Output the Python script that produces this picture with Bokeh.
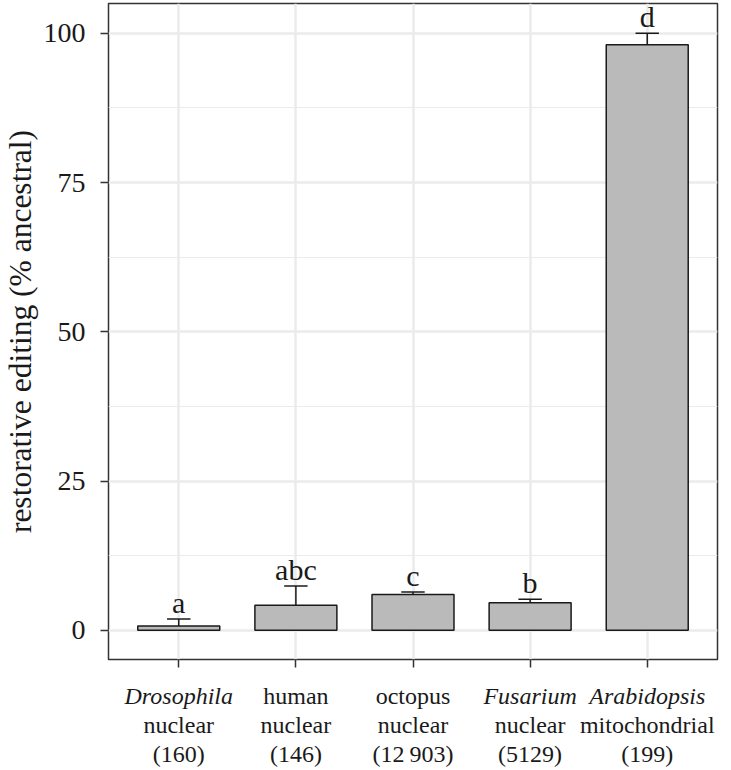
import math
from bokeh.plotting import figure
from bokeh.layouts import column, row
from bokeh.models import Range1d, FixedTicker, ColumnDataSource
from bokeh.core.properties import value
from bokeh.embed import file_html
from bokeh.resources import INLINE

# ---- data ----
species = ["Drosophila", "human", "octopus", "Fusarium", "Arabidopsis"]
species_italic = [True, False, False, True, True]
compartment = ["nuclear", "nuclear", "nuclear", "nuclear", "mitochondrial"]
site_counts = ["(160)", "(146)", "(12\u2009903)", "(5129)", "(199)"]
mean_pct = [0.7, 4.2, 6.0, 4.6, 98.1]
upper_pct = [1.9, 7.4, 6.4, 5.2, 100.0]
group_letters = ["a", "abc", "c", "b", "d"]
y_ticks = [0, 25, 50, 75, 100]
y_title = "restorative editing (% ancestral)"

FONT = "Liberation Serif"
TXT = "#1a1a1a"
GRID = "#EBEBEB"
BORDER = "#333333"

TITLE_W = 40
LEFT, RIGHT, TOP = 106 - TITLE_W, 6, 3
W = LEFT + 611 + RIGHT
MAIN_H, MAIN_BOTTOM = 680, 21
STRIP_H = 88
FRAME_H = MAIN_H - TOP - MAIN_BOTTOM
xpos = list(range(1, len(species) + 1))
y_start, y_end = -4.9, 105.0
x_range = Range1d(0.4, len(species) + 0.6)

p = figure(width=W, height=MAIN_H,
           min_border_left=LEFT, min_border_right=RIGHT, min_border_top=TOP,
           min_border_bottom=MAIN_BOTTOM,
           x_range=x_range, y_range=Range1d(y_start, y_end),
           output_backend="svg", toolbar_location=None)
p.background_fill_color = "white"
p.border_fill_color = "white"
p.outline_line_color = BORDER
p.outline_line_width = 1.5

for ax in (p.xaxis[0], p.yaxis[0]):
    ax.axis_line_color = None
    ax.major_tick_line_color = BORDER
    ax.major_tick_line_width = 1.5
    ax.major_tick_out = 8
    ax.major_tick_in = 0
    ax.minor_tick_line_color = None

p.xaxis.ticker = FixedTicker(ticks=xpos)
p.xaxis.major_label_overrides = {x: "" for x in xpos}
p.xaxis.major_label_text_font_size = "0px"
p.xaxis.major_label_standoff = 0
p.xaxis.axis_label_standoff = 0

minor = [(a + b) / 2 for a, b in zip(y_ticks, y_ticks[1:])]
p.yaxis.ticker = FixedTicker(ticks=y_ticks, minor_ticks=minor)
p.yaxis.major_label_text_font = FONT
p.yaxis.major_label_text_font_size = "28px"
p.yaxis.major_label_text_color = TXT
p.yaxis.major_label_standoff = 15

p.xgrid.ticker = FixedTicker(ticks=xpos)
p.xgrid.grid_line_color = GRID
p.xgrid.grid_line_width = 2.5
p.ygrid.grid_line_color = GRID
p.ygrid.grid_line_width = 2.5
p.ygrid.minor_grid_line_color = GRID
p.ygrid.minor_grid_line_width = 1.2

src = ColumnDataSource(dict(
    x=xpos, mean=mean_pct, upper=upper_pct, letter=group_letters,
    cap0=[x - 0.1 for x in xpos], cap1=[x + 0.1 for x in xpos],
))

p.vbar(x="x", top="mean", bottom=0, width=0.7, source=src,
       fill_color="#BABABA", line_color="#1a1a1a", line_width=1.5)
p.segment(x0="x", y0="mean", x1="x", y1="upper", source=src,
          line_color="#1a1a1a", line_width=1.5)
p.segment(x0="cap0", y0="upper", x1="cap1", y1="upper", source=src,
          line_color="#1a1a1a", line_width=1.5)
p.text(x="x", y="upper", text="letter", source=src,
       text_align="center", text_baseline="bottom",
       text_font=value(FONT), text_font_size="30px", text_color=TXT)

# ---- strip below the panel carrying the three-line category labels ----
LINE1_FROM_TOP, LINE_STEP = 15, 29
strip = figure(width=W, height=STRIP_H,
               min_border_left=LEFT, min_border_right=RIGHT, min_border_top=0, min_border_bottom=0,
               x_range=x_range, y_range=Range1d(0, STRIP_H),
               x_axis_location=None, y_axis_location=None,
               output_backend="svg", toolbar_location=None)
strip.outline_line_color = None
strip.grid.visible = False
strip.background_fill_color = "white"
strip.border_fill_color = "white"

rows = [
    (species, [("italic" if it else "normal") for it in species_italic]),
    (compartment, ["normal"] * len(xpos)),
    (site_counts, ["normal"] * len(xpos)),
]
for k, (texts, styles) in enumerate(rows):
    ys = [STRIP_H - LINE1_FROM_TOP - k * LINE_STEP] * len(xpos)
    s = ColumnDataSource(dict(x=xpos, y=ys, t=texts, st=styles))
    strip.text(x="x", y="y", text="t", source=s, text_font_style="st",
               text_align="center", text_baseline="alphabetic",
               text_font=value(FONT), text_font_size="24px", text_color=TXT)

# ---- narrow strip on the left carrying the y-axis title ----
TOTAL_H = MAIN_H + STRIP_H
tfig = figure(width=TITLE_W, height=TOTAL_H,
              min_border_left=0, min_border_right=0, min_border_top=0, min_border_bottom=0,
              x_range=Range1d(0, TITLE_W), y_range=Range1d(0, TOTAL_H),
              x_axis_location=None, y_axis_location=None,
              output_backend="svg", toolbar_location=None)
tfig.outline_line_color = None
tfig.grid.visible = False
tfig.background_fill_color = "white"
tfig.border_fill_color = "white"
tsrc = ColumnDataSource(dict(x=[TITLE_W / 2], y=[TOTAL_H - (TOP + FRAME_H / 2)], t=[y_title]))
tfig.text(x="x", y="y", text="t", source=tsrc, angle=math.pi / 2,
          text_align="center", text_baseline="middle",
          text_font=value(FONT), text_font_size="31.5px", text_color=TXT)

layout = row(tfig, column(p, strip, spacing=0), spacing=0)
open("out.html", "w").write(file_html(layout, INLINE))
